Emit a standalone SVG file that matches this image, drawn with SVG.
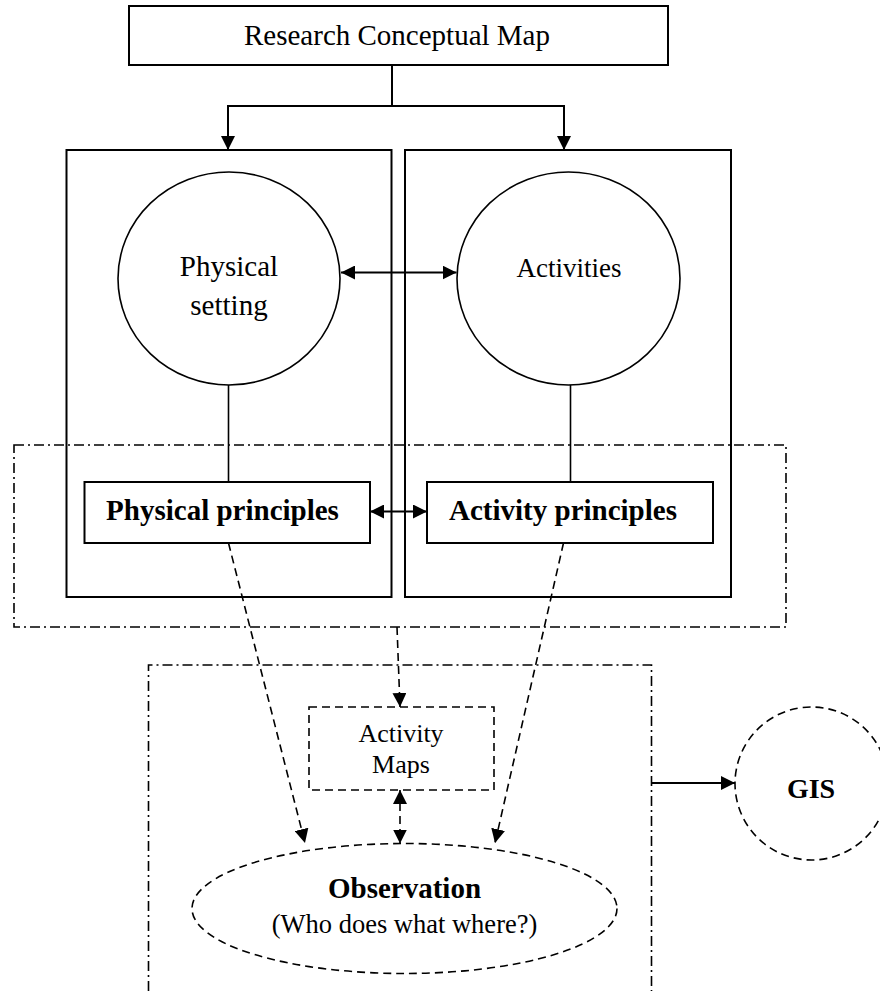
<svg xmlns="http://www.w3.org/2000/svg" width="880" height="991" viewBox="0 0 880 991">
  <style>
    .box { fill: none; stroke: #000; stroke-width: 2; }
    .ring { fill: #fff; stroke: #000; stroke-width: 1.6; }
    .dash { fill: none; stroke: #000; stroke-width: 1.6; stroke-dasharray: 8 5; }
    .dashdot { fill: none; stroke: #000; stroke-width: 1.6; stroke-dasharray: 10 4 2 4; }
    .wire { fill: none; stroke: #000; stroke-width: 2; }
    .dwire { fill: none; stroke: #000; stroke-width: 1.6; stroke-dasharray: 8 5; }
    text { font-family: "Liberation Serif", "Times New Roman", serif; fill: #000; text-anchor: middle; }
    .b { font-weight: bold; }
  </style>
  <defs>
    <marker id="head" viewBox="0 0 14 14" markerUnits="userSpaceOnUse" markerWidth="14" markerHeight="14" refX="14" refY="7" orient="auto-start-reverse">
      <path d="M0,0 L14,7 L0,14 z" fill="#000" stroke="none"/>
    </marker>
  </defs>

  <!-- grouping frames -->
  <g id="frame-principles">
    <rect class="dashdot" x="14" y="445" width="772" height="182"/>
  </g>
  <g id="frame-fieldwork">
    <path class="dashdot" d="M148.5,991 V665 H651.5 V991"/>
  </g>

  <g id="map">
    <rect class="box" x="129" y="6" width="539" height="59"/>
    <text x="397" y="45" font-size="29">Research Conceptual Map</text>
  </g>

  <g id="column-physical">
    <rect class="box" x="66.5" y="150" width="325" height="447"/>
  </g>
  <g id="column-activities">
    <rect class="box" x="405" y="150" width="326" height="447"/>
  </g>

  <g id="physical-setting">
    <ellipse class="ring" cx="229" cy="278.5" rx="111" ry="106.5"/>
    <text x="229" y="276" font-size="29">Physical</text>
    <text x="229" y="315" font-size="29">setting</text>
  </g>
  <g id="activities">
    <ellipse class="ring" cx="568.5" cy="278.5" rx="111.5" ry="106.5"/>
    <text x="569" y="277" font-size="27">Activities</text>
  </g>

  <g id="physical-principles">
    <rect class="box" x="84.5" y="482" width="285.5" height="61"/>
    <text class="b" x="222.5" y="519.5" font-size="29">Physical principles</text>
  </g>
  <g id="activity-principles">
    <rect class="box" x="427" y="482" width="286" height="61"/>
    <text class="b" x="563" y="520" font-size="29">Activity principles</text>
  </g>

  <g id="activity-maps">
    <rect class="dash" x="309" y="707" width="185" height="83"/>
    <text x="401" y="742" font-size="26">Activity</text>
    <text x="401" y="773" font-size="26">Maps</text>
  </g>

  <g id="observation">
    <ellipse class="dash" cx="404.5" cy="908.5" rx="212.5" ry="65"/>
    <text class="b" x="404.5" y="898" font-size="29">Observation</text>
    <text x="404.5" y="933" font-size="26.5">(Who does what where?)</text>
  </g>

  <g id="gis">
    <circle class="dash" cx="811.5" cy="783.5" r="76.5"/>
    <text class="b" x="811" y="798" font-size="28">GIS</text>
  </g>

  <g id="connectors">
    <path class="wire" d="M392,65 V106"/>
    <path class="wire" d="M392,106 H228 V150" marker-end="url(#head)"/>
    <path class="wire" d="M392,106 H564 V150" marker-end="url(#head)"/>
    <path class="wire" d="M341,272.5 H456.5" marker-start="url(#head)" marker-end="url(#head)"/>
    <path class="wire" d="M228.5,385 V482" style="stroke-width:1.6"/>
    <path class="wire" d="M570.5,385 V482" style="stroke-width:1.6"/>
    <path class="wire" d="M370,511.5 H427" marker-start="url(#head)" marker-end="url(#head)"/>
    <path class="dwire" d="M228.5,543 L305,843" marker-end="url(#head)"/>
    <path class="dwire" d="M563.5,543 L495,843" marker-end="url(#head)"/>
    <path class="dwire" d="M397,627 L400,707" marker-end="url(#head)"/>
    <path class="dwire" d="M400,790 V843.5" marker-start="url(#head)" marker-end="url(#head)"/>
    <path class="wire" d="M651.5,783 H735" marker-end="url(#head)"/>
  </g>
</svg>
